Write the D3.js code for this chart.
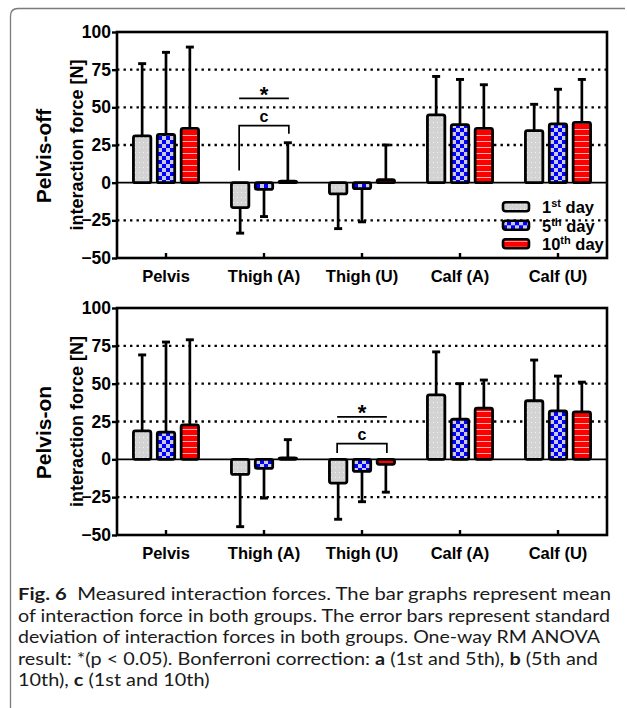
<!DOCTYPE html>
<html>
<head>
<meta charset="utf-8">
<script src="https://cdn.jsdelivr.net/npm/d3@7"></script>
<style>
  body { margin: 0; background: #fff; }
  svg { display: block; }
  .axis text { font-family: "Liberation Sans", Arial, sans-serif; font-weight: bold; }
</style>
</head>
<body>
<svg id="chart" width="627" height="708"></svg>
<script>
// data
const categories = ['Pelvis', 'Thigh (A)', 'Thigh (U)', 'Calf (A)', 'Calf (U)']
const days = ['1st', '5th', '10th']
const yTicks = [-50, -25, 0, 25, 50, 75, 100]

// pelvis-off panel: mean and mean+SD (one sided error bar)
const offMean = [
    [31, 32, 36],
    [-16.5, -4.5, 1],
    [-7.5, -4, 2],
    [45, 38.5, 36],
    [34.5, 39, 40]
]
const offErr = [
    [79, 86.5, 90],
    [-33.5, -22.5, 26.5],
    [-30.5, -26, 25],
    [70.5, 68.5, 65],
    [52, 62, 68.5]
]
// pelvis-on panel
const onMean = [
    [18.8, 18, 22.8],
    [-10, -6, 1],
    [-15.7, -8, -3.3],
    [42.6, 26.5, 33.8],
    [38.7, 32, 31.4]
]
const onErr = [
    [69, 77.5, 79],
    [-44.5, -25.6, 13],
    [-39.6, -28, -21.7],
    [71, 50, 52.4],
    [65.6, 55, 51]
]
// significance marks: category, star line level, bracket level, leg ends (left, right)
const offSig = {cat: 'Thigh (A)', star: 56, bracket: 37.8, legs: [8, 32.5]}
const onSig = {cat: 'Thigh (U)', star: 28, bracket: 10.4, legs: [4.2, 4.2]}

const captionLines = [
    [['Fig. 6', true], ['  Measured interaction forces. The bar graphs represent mean', false]],
    [['of interaction force in both groups. The error bars represent standard', false]],
    [['deviation of interaction forces in both groups. One-way RM ANOVA', false]],
    [['result: *(p < 0.05). Bonferroni correction: ', false], ['a', true], [' (1st and 5th), ', false], ['b', true], [' (5th and', false]],
    [['10th), ', false], ['c', true], [' (1st and 10th)', false]]
]
const captionWidths = [593, 592, 582, 580, null]

const svg = d3.select('#chart')
const fontBold = '"Liberation Sans", Arial, sans-serif'

// frame
svg.append('path')
    .attr('d', 'M10.5,708 L10.5,16 Q10.5,8.5 18,8.5 L625,8.5')
    .attr('fill', 'none')
    .attr('stroke', '#7a7a7a')
    .attr('stroke-width', 1.3)

// patterns
const defs = svg.append('defs')
const pGray = defs.append('pattern').attr('id', 'pat0').attr('patternUnits', 'userSpaceOnUse')
    .attr('width', 4).attr('height', 5)
pGray.append('rect').attr('width', 4).attr('height', 5).attr('fill', '#d3d3d3')
pGray.append('rect').attr('x', 1).attr('y', 2).attr('width', 1).attr('height', 1).attr('fill', '#f2f2f2')

const pBlue = defs.append('pattern').attr('id', 'pat1').attr('patternUnits', 'userSpaceOnUse')
    .attr('width', 8).attr('height', 8)
pBlue.append('rect').attr('width', 8).attr('height', 8).attr('fill', '#c9c9ee')
pBlue.append('rect').attr('width', 4).attr('height', 4).attr('fill', '#0000ff')
pBlue.append('rect').attr('x', 4).attr('y', 4).attr('width', 4).attr('height', 4).attr('fill', '#0000ff')

const pRed = defs.append('pattern').attr('id', 'pat2').attr('patternUnits', 'userSpaceOnUse')
    .attr('width', 4).attr('height', 6)
pRed.append('rect').attr('width', 4).attr('height', 6).attr('fill', '#ff0000')
pRed.append('rect').attr('y', 3).attr('width', 4).attr('height', 1).attr('fill', '#ffb0b0')

const x = d3.scaleBand().domain(categories).range([117, 607])
const xInner = d3.scaleBand().domain(days).range([-39, 39]).padding(0.27)

const drawPanel = (top, bottom, title, means, errs, sig, withLegend) => {
    const y = d3.scaleLinear().domain([-50, 100]).range([bottom, top])
    const g = svg.append('g')
    const cx = (c) => x(c) + x.bandwidth() / 2

    // dotted grid
    g.selectAll('.grid')
        .data(yTicks.filter(t => t !== 0 && t !== -50 && t !== 100))
        .enter()
        .append('line')
        .attr('x1', 117).attr('x2', 607)
        .attr('y1', d => y(d)).attr('y2', d => y(d))
        .attr('stroke', '#000')
        .attr('stroke-width', 2.4)
        .attr('stroke-dasharray', '2.4,4.1')

    // zero line
    g.append('line')
        .attr('x1', 117).attr('x2', 607)
        .attr('y1', y(0)).attr('y2', y(0))
        .attr('stroke', '#000').attr('stroke-width', 1.6)

    // bars
    categories.forEach((c, ci) => {
        const grp = g.append('g').attr('transform', 'translate(' + cx(c) + ',0)')
        days.forEach((dd, di) => {
            const v = means[ci][di]
            const e = errs[ci][di]
            const bx = xInner(dd)
            const mid = bx + xInner.bandwidth() / 2
            // error bar
            grp.append('line')
                .attr('x1', mid).attr('x2', mid)
                .attr('y1', y(v)).attr('y2', y(e))
                .attr('stroke', '#000').attr('stroke-width', 2.7)
            grp.append('line')
                .attr('x1', mid - 4).attr('x2', mid + 4)
                .attr('y1', y(e)).attr('y2', y(e))
                .attr('stroke', '#000').attr('stroke-width', 2.9)
            grp.append('rect')
                .attr('x', bx)
                .attr('y', Math.min(y(v), y(0)))
                .attr('width', xInner.bandwidth())
                .attr('height', Math.abs(y(v) - y(0)))
                .attr('rx', 2)
                .attr('fill', 'url(#pat' + di + ')')
                .attr('stroke', '#000')
                .attr('stroke-width', 2.8)
        })
    })

    // box
    g.append('rect')
        .attr('x', 117).attr('y', top)
        .attr('width', 490).attr('height', bottom - top)
        .attr('fill', 'none').attr('stroke', '#000').attr('stroke-width', 2.6)

    // y axis
    const yAxis = g.append('g').attr('class', 'axis')
        .attr('transform', 'translate(117,0)')
        .call(d3.axisLeft(y).tickValues(yTicks).tickSize(5).tickPadding(1))
    yAxis.select('.domain').remove()
    yAxis.selectAll('line').attr('stroke-width', 2.4)
    yAxis.selectAll('text').attr('font-size', 17.5).attr('fill', '#000')

    // x axis
    const xAxis = g.append('g').attr('class', 'axis')
        .attr('transform', 'translate(0,' + bottom + ')')
        .call(d3.axisBottom(x).tickSize(-5).tickPadding(9))
    xAxis.select('.domain').remove()
    xAxis.selectAll('line').attr('stroke-width', 2.4)
    xAxis.selectAll('text').attr('font-size', 16.5).attr('fill', '#000').attr('dy', '0.9em')

    // axis titles
    const mid = (top + bottom) / 2
    g.append('text')
        .attr('transform', 'translate(51,' + (mid + 11) + ') rotate(-90)')
        .attr('text-anchor', 'middle')
        .attr('font-family', fontBold).attr('font-weight', 'bold').attr('font-size', 21)
        .text(title)
    g.append('text')
        .attr('transform', 'translate(83,' + mid + ') rotate(-90)')
        .attr('text-anchor', 'middle')
        .attr('font-family', fontBold).attr('font-weight', 'bold').attr('font-size', 18)
        .text('interaction force [N]')

    // significance
    const sx0 = cx(sig.cat) + xInner(days[0]) + xInner.bandwidth() / 2 - 1
    const sx1 = cx(sig.cat) + xInner(days[2]) + xInner.bandwidth() / 2 + 1
    g.append('line')
        .attr('x1', sx0).attr('x2', sx1)
        .attr('y1', y(sig.star)).attr('y2', y(sig.star))
        .attr('stroke', '#000').attr('stroke-width', 1.7)
    g.append('text')
        .attr('x', (sx0 + sx1) / 2).attr('y', y(sig.star) + 3.5)
        .attr('text-anchor', 'middle')
        .attr('font-family', fontBold).attr('font-weight', 'bold').attr('font-size', 22)
        .text('*')
    g.append('path')
        .attr('d', 'M' + sx0 + ',' + y(sig.legs[0]) + 'V' + y(sig.bracket) + 'H' + sx1 + 'V' + y(sig.legs[1]))
        .attr('fill', 'none').attr('stroke', '#000').attr('stroke-width', 1.7)
    g.append('text')
        .attr('x', (sx0 + sx1) / 2).attr('y', y(sig.bracket) - 3.5)
        .attr('text-anchor', 'middle')
        .attr('font-family', fontBold).attr('font-weight', 'bold').attr('font-size', 16)
        .text('c')

    if (withLegend) {
        const supers = ['st', 'th', 'th']
        const nums = ['1', '5', '10']
        const lg = g.append('g').attr('transform', 'translate(503,' + (y(-16)) + ')')
        const item = lg.selectAll('g').data(days).enter().append('g')
            .attr('transform', (d, i) => 'translate(0,' + (i * 18.5) + ')')
        item.append('rect')
            .attr('x', 0).attr('y', -4.5).attr('width', 26).attr('height', 9).attr('rx', 2.5)
            .attr('fill', (d, i) => 'url(#pat' + i + ')')
            .attr('stroke', '#000').attr('stroke-width', 2.6)
        const t = item.append('text')
            .attr('x', 39).attr('y', 6.5)
            .attr('font-family', fontBold).attr('font-weight', 'bold').attr('font-size', 16.5)
        t.append('tspan').text((d, i) => nums[i])
        t.append('tspan').attr('dy', -6).attr('font-size', 11).text((d, i) => supers[i])
        t.append('tspan').attr('dy', 6).text(' day')
    }
}

drawPanel(32, 258, 'Pelvis-off', offMean, offErr, offSig, true)
drawPanel(308, 535, 'Pelvis-on', onMean, onErr, onSig, false)

// caption, squeezed horizontally to the narrow typeface of the original
const cap = svg.append('g')
let squeeze = 1
captionLines.forEach((line, i) => {
    const t = cap.append('text')
        .attr('x', 18).attr('y', 600 + i * 21.5)
        .attr('font-family', 'Lato, "Open Sans", sans-serif')
        .attr('font-size', 17.5)
        .attr('fill', '#1a1a1a')
        .style('white-space', 'pre')
    line.forEach(([s, b]) => {
        t.append('tspan').attr('font-weight', b ? 'bold' : 'normal').text(s)
    })
    const w = t.node().getComputedTextLength()
    if (captionWidths[i]) {
        squeeze = captionWidths[i] / w
        t.attr('textLength', captionWidths[i])
    } else {
        t.attr('textLength', w * squeeze)
    }
    t.attr('lengthAdjust', 'spacingAndGlyphs')
})
</script>
</body>
</html>
